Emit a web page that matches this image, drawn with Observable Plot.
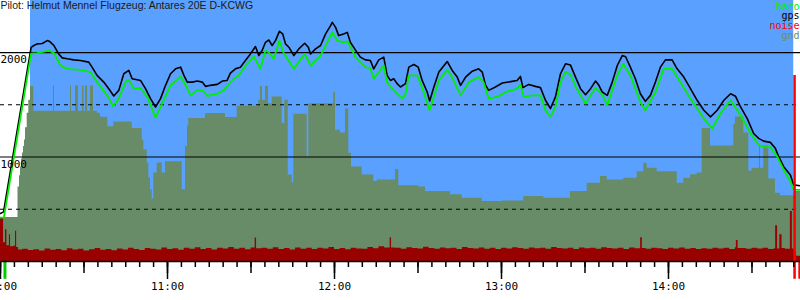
<!DOCTYPE html>
<html><head><meta charset="utf-8">
<script src="https://cdn.jsdelivr.net/npm/d3@7"></script>
<script src="https://cdn.jsdelivr.net/npm/@observablehq/plot@0.6"></script>
<style>html,body{margin:0;padding:0;background:#fff;overflow:hidden}#chart svg{display:block}</style>
</head><body><div id="chart"></div>
<script>
const title = "Pilot: Helmut Mennel Flugzeug: Antares 20E D-KCWG";
const legendNames = ["baro", "gps", "noise", "gnd"];
const yLabels = [1000, 2000];
const solidLevels = [1000, 2000];
const dashedLevels = [500, 1500];
const hourTicks = ["10:00", "11:00", "12:00", "13:00", "14:00"];

// minutes after 10:00 UTC
const gpsMin = [0,1.1,11.0,12.0,13.2,15.0,16.8,17.7,19.2,20.9,22.2,24.0,26.3,28.7,31.7,32.9,34.7,37.1,38.9,40.7,42.5,44.3,46.1,47.3,49.1,50.3,52.1,53.9,55.7,57.5,59.3,61.1,62.9,64.7,65.9,67.1,68.9,70.7,72.5,73.7,75.4,77.9,79.7,81.4,82.6,84.4,86.2,88.0,89.8,91.6,92.8,94.0,95.2,96.4,97.6,98.8,100.2,101.4,102.4,103.6,105.4,107.2,109.3,110.6,111.4,113.2,115.0,116.8,118.6,119.2,120.4,121.5,123.3,124.6,125.7,127.5,129.3,131.1,132.9,134.1,135.9,137.7,138.9,140.1,141.3,142.5,143.7,145.5,146.7,148.5,150.1,151.5,153.3,154.2,155.7,157.5,160.5,162.3,164.1,165.3,167.1,169.5,171.8,173.1,174.3,175.4,177.8,180.3,183.8,185.6,186.8,187.7,189.8,192.2,194.0,195.8,197.6,199.4,201.2,203.0,204.8,206.6,208.4,210.2,212.0,213.8,215.0,216.2,218.0,219.8,221.6,223.4,224.6,226.3,228.1,229.9,231.7,233.5,235.3,237.1,238.9,241.3,243.1,245.5,247.9,250.3,252.7,255.1,257.5,259.9,262.3,264.1,265.9,268.3,270.6,272.4,274.2,276.6,278.4,279.6,281.4,283.8,285.0,287.4];
const gpsAlt = [460,475,2050,2067,2083,2086,2114,2105,2067,1987,1949,1940,1930,1924,1908,1860,1781,1717,1654,1584,1638,1797,1829,1749,1740,1733,1654,1559,1479,1559,1686,1797,1844,1860,1781,1717,1717,1727,1717,1676,1686,1695,1727,1733,1803,1844,1860,1924,1987,2057,1971,2019,2098,2120,2067,2114,2203,2178,2083,2051,1971,2035,2089,2051,1987,2035,2067,2178,2257,2289,2241,2162,2178,2193,2098,2025,1956,1930,1924,1844,1930,1956,1781,1733,1749,1702,1670,1702,1860,1886,1860,1733,1622,1536,1670,1813,1914,1829,1765,1686,1765,1822,1844,1813,1686,1638,1670,1708,1724,1733,1771,1664,1695,1676,1664,1543,1464,1575,1797,1892,1880,1765,1654,1597,1654,1727,1686,1622,1590,1717,1876,1971,1960,1860,1749,1606,1533,1590,1717,1860,1930,1930,1844,1765,1654,1543,1448,1384,1448,1543,1606,1581,1479,1368,1225,1178,1152,1140,1083,1003,908,829,733,724];

const baroMin = [0,1.2,11.0,13.2,17.4,19.2,21.6,24.0,28.7,32.3,34.7,38.3,40.5,42.5,44.9,46.1,47.9,50.3,52.7,55.7,57.5,61.1,64.7,66.5,68.3,70.7,73.0,74.3,77.9,80.2,83.8,85.6,88.6,91.0,93.4,95.2,96.4,98.2,100.2,101.8,105.4,109.3,111.4,115.0,119.2,121.0,123.3,124.7,127.5,131.1,132.9,134.1,137.7,138.9,140.7,144.3,145.5,146.7,149.7,151.5,154.2,157.5,160.5,162.3,165.3,168.3,171.8,173.5,175.4,178.9,181.4,185.6,186.8,188.0,191.0,194.0,195.8,197.6,199.4,201.2,203.0,204.8,206.6,210.2,213.8,216.2,218.0,219.8,221.6,223.7,226.3,229.9,231.7,235.3,238.3,241.3,243.1,247.9,252.7,255.7,258.7,262.3,265.9,269.5,272.4,274.2,276.6,279.1,281.4,283.8,285.0,287.4];
const baroAlt = [420,419,1990,1994,2019,1994,1876,1844,1835,1813,1717,1590,1486,1559,1717,1740,1654,1660,1575,1378,1479,1686,1771,1690,1590,1644,1630,1584,1606,1638,1749,1780,1892,1962,1844,2019,2000,1940,2114,1990,1844,1987,1876,1971,2193,2114,2098,2110,1956,1860,1850,1749,1876,1717,1654,1559,1600,1781,1781,1664,1448,1733,1835,1760,1590,1717,1765,1720,1559,1580,1622,1654,1690,1575,1590,1590,1448,1384,1479,1717,1813,1790,1676,1511,1664,1597,1495,1640,1781,1892,1781,1527,1448,1622,1844,1844,1765,1559,1368,1273,1416,1543,1400,1225,1114,1098,1095,1003,876,765,686,686];

const gndMin = [0,6.29,6.83,7.19,7.54,7.90,8.26,8.62,8.98,9.59,10.17,10.78,11.96,19.04,19.40,25.15,25.51,26.95,28.02,29.46,30.00,30.54,31.26,32.34,33.41,34.74,35.93,38.55,40.71,47.32,50.91,51.48,52.71,53.28,53.89,54.50,55.08,56.30,58.09,59.28,65.28,66.47,67.19,67.65,73.65,80.84,85.04,92.80,93.41,94.13,95.21,96.29,97.62,101.21,102.14,103.37,104.80,105.38,110.19,110.77,119.75,120.36,122.16,123.95,125.14,126.11,129.95,134.12,135.34,141.92,143.10,150.29,152.69,161.68,165.88,173.07,180.25,188.01,195.20,204.79,210.79,215.57,217.97,223.94,228.75,231.13,232.35,235.94,243.13,245.50,247.90,250.31,252.11,255.09,263.46,264.07,267.05,268.85,270.07,272.69,273.05,274.24,276.04,278.44,280.24,285.02,287.43];
const gndAlt = [420,714,820,905,980,1038,1100,1162,1280,1419,1543,1676,1438,1680,1438,1680,1438,1680,1438,1680,1438,1680,1438,1680,1438,1419,1380,1289,1336,1273,1160,1067,943,800,686,597,848,943,848,955,686,1098,1300,1368,1416,1378,1486,1543,1676,1543,1676,1511,1575,1321,1543,829,752,1410,1003,1511,1620,1257,1229,1460,1035,905,829,765,781,880,724,714,670,638,606,574,578,622,606,670,749,813,781,797,860,940,892,860,749,797,830,848,1273,1105,1314,1384,1229,867,892,1105,892,1105,790,654,629,670,670];

const noiseMin = [0,1.1,1.8,2.3,3.2,3.6,4.7,5.4,5.8,6.5,8,10,12,14,16,18,20,22,24,26,28,30,32,34,36,38,40,42,44,46,48,50,52,54,56,58,60,62,64,66,68,70,72,74,76,78,80,82,84,86,88,90,91.5,92,94,96,98,100,102,104,106,108,110,112,114,116,118,120,122,124,126,128,130,132,134,136,138,140,140.5,142,144,146,148,150,152,154,156,158,160,162,164,166,168,170,172,174,176,178,180,182,184,186,188,190,192,194,196,198,200,202,204,206,208,210,212,214,216,218,220,222,224,226,228,230,230.6,232,234,236,238,240,242,244,246,248,250,252,254,256,258,260,262,264,264.4,265,266,268,270,272,274,276,278,278.5,279.2,280,280.8,282,283.8,284.5,285.2,286,287.43];
const noiseAlt = [420,180,305,150,257,140,146,289,135,110,118,105,112,100,120,108,115,104,122,110,118,100,112,125,108,116,102,120,110,128,115,106,124,118,110,130,114,122,108,126,118,132,115,124,110,128,120,135,118,126,112,130,225,122,128,118,132,115,124,110,130,118,128,114,126,120,134,116,125,112,128,120,118,135,122,140,130,228,130,126,118,132,124,120,136,125,118,130,122,128,116,134,124,120,130,118,126,114,128,120,132,124,118,130,122,126,118,134,124,120,128,116,130,122,126,118,132,124,120,128,116,130,122,228,125,118,128,122,116,126,120,130,118,124,114,122,118,126,120,128,116,132,200,124,124,118,126,120,128,116,122,343,120,257,125,118,479,120,90,50,50];

const skyStartMin = 10.78, skyEndMin = 285.0;
const takeoffMin = 1.6, landingMin = 287.1, engineMin = 285.3, engineTop = 1780;
const xEndMin = 287.43;

const base = Date.UTC(2024, 0, 1, 10, 0);
const T = m => new Date(base + m * 60000);
const zip = (a, b) => a.slice(0, Math.min(a.length, b.length)).map((m, i) => ({t: T(m), v: b[i]}));
const gps = zip(gpsMin, gpsAlt), baro = zip(baroMin, baroAlt), gnd = zip(gndMin, gndAlt), noise = zip(noiseMin, noiseAlt);

const five = [], half = [];
for (let m = 0; m <= xEndMin; m += 5) five.push(T(m));
for (let m = 0; m <= xEndMin; m += 30) half.push(T(m));
const hours = hourTicks.map(s => { const [h, mm] = s.split(":").map(Number); return T((h - 10) * 60 + mm); });

const mono = "DejaVu Sans Mono";
const legendColors = ["#00ee00", "#000000", "#ff0000", "#6b8e6b"];

const plot = Plot.plot({
  width: 800, height: 300,
  marginLeft: 0, marginRight: 0, marginTop: 0, marginBottom: 39,
  style: {background: "#fff", overflow: "visible"},
  x: {type: "utc", domain: [T(0), T(xEndMin)], label: null},
  y: {domain: [0, 2498], axis: null, label: null},
  marks: [
    Plot.rectY([{a: T(skyStartMin), b: T(skyEndMin)}], {x1: "a", x2: "b", y1: 0, y2: 2498, fill: "#5aa0ff"}),
    Plot.areaY(gnd, {x: "t", y: "v", curve: "step-after", fill: "#678c67"}),
    Plot.areaY(noise, {x: "t", y: "v", curve: "step-after", fill: "#990000"}),
    Plot.ruleY(solidLevels, {stroke: "#000", strokeWidth: 1.2}),
    Plot.ruleY(dashedLevels, {stroke: "#000", strokeWidth: 1.2, strokeDasharray: "4,4"}),
    Plot.line(gps, {x: "t", y: "v", stroke: "#000", strokeWidth: 1.6}),
    Plot.line(baro, {x: "t", y: "v", stroke: "#00ee00", strokeWidth: 1.8}),
    Plot.ruleX([{t: T(engineMin)}], {x: "t", y1: engineTop, y2: -170, stroke: "#ff0000", strokeWidth: 2.5}),
    Plot.ruleX([{t: T(takeoffMin)}], {x: "t", y1: 0, y2: -170, stroke: "#00cc00", strokeWidth: 3}),
    Plot.ruleX([{t: T(landingMin)}], {x: "t", y1: 0, y2: -170, stroke: "#ff0000", strokeWidth: 2.5}),
    Plot.ruleY([0], {stroke: "#000", strokeWidth: 1.5}),
    Plot.axisX({ticks: five, tickSize: 6, tickFormat: () => "", label: null, strokeWidth: 1.5}),
    Plot.axisX({ticks: half, tickSize: 12, tickFormat: () => "", label: null, strokeWidth: 1.5}),
    Plot.axisX({ticks: hours, tickSize: 18, tickPadding: 3, tickFormat: d3.utcFormat("%H:%M"), label: null,
      fontFamily: mono, fontSize: 11, strokeWidth: 1.5}),
    Plot.text(yLabels, {x: T(0), y: d => d, text: d => String(d), textAnchor: "start", lineAnchor: "top", dy: 3,
      fontFamily: mono, fontSize: 11, fill: "#000"}),
    Plot.text([title], {frameAnchor: "top-left", text: d => d, dy: 1, fontFamily: "Liberation Sans", fontSize: 10.5, fill: "#1a1a1a"}),
    ...legendNames.map((n, i) => Plot.text([n], {frameAnchor: "top-right", text: d => d, dx: -1, dy: 2 + i * 9.8,
      fontFamily: mono, fontSize: 10, fill: legendColors[i]}))
  ]
});
document.getElementById("chart").appendChild(plot);
</script>
</body></html>
